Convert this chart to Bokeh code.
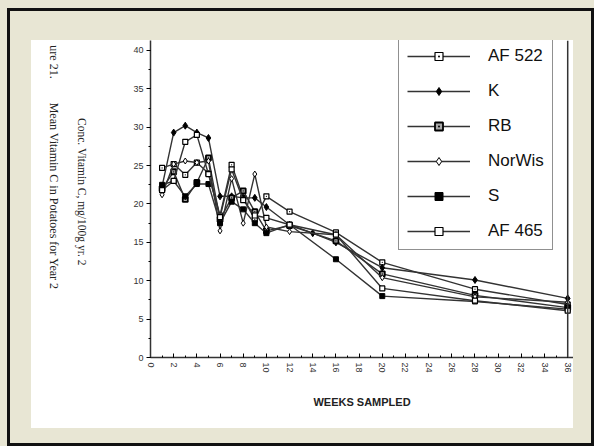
import math
from bokeh.plotting import figure
from bokeh.models import (ColumnDataSource, SingleIntervalTicker, FixedTicker, Legend,
                          LegendItem, Span, LinearAxis)
from bokeh.layouts import column, row
from bokeh.embed import file_html
from bokeh.resources import INLINE

weeks = [1, 2, 3, 4, 5, 6, 7, 8, 9, 10, 12, 16, 20, 28, 36]
weeks_k = [1, 2, 3, 4, 5, 6, 7, 8, 9, 10, 12, 14, 16, 20, 28, 36]

series_names = ["AF 522", "K", "RB", "NorWis", "S", "AF 465"]
af522 = [24.7, 25.2, 23.8, 25.4, 24.0, 18.5, 25.1, 20.8, 18.0, 21.0, 19.0, 16.3, 12.4, 8.9, 6.9]
k_vals = [22.3, 29.3, 30.2, 29.3, 28.6, 21.0, 21.0, 20.8, 20.8, 19.6, 17.3, 16.2, 15.0, 11.7, 10.1, 7.7]
rb = [22.0, 24.2, 20.6, 22.8, 26.0, 18.0, 20.8, 21.7, 19.0, 16.5, 17.2, 15.2, 10.9, 8.1, 6.5]
norwis = [21.2, 25.2, 25.6, 25.4, 25.6, 16.5, 23.3, 17.5, 23.9, 17.0, 16.4, 16.0, 10.4, 7.9, 7.2]
s_vals = [22.5, 23.0, 21.0, 22.6, 22.6, 17.5, 20.3, 19.3, 17.5, 16.2, 17.3, 12.8, 8.0, 7.3, 6.3]
af465 = [21.8, 23.0, 28.1, 29.0, 23.9, 18.3, 24.5, 20.5, 18.5, 18.2, 17.3, 16.0, 9.0, 7.4, 6.1]

y_ticks_interval = 5
x_ticks_interval = 2

NB = "\u00a0"
title_text = "ure 21." + NB * 8 + "Mean Vitamin C in Potatoes for Year 2" + NB * 21
ylabel_text = "Conc. Vitamin C, mg/100g yr. 2" + NB * 5

# ---------- main chart ----------
p = figure(width=453, height=388, output_backend="svg", toolbar_location=None,
           x_range=(0, 36.5), y_range=(0, 41.3),
           min_border_left=30, min_border_right=0, min_border_top=0, min_border_bottom=71,
           background_fill_color="white", border_fill_color="white")
p.outline_line_color = None
p.grid.visible = False

line_col = "#333333"
styles = [
    ("square_dot", "white", 1.2, 5),
    ("diamond", "black", 1.0, 7),
    ("square_dot", "#aaaaaa", 1.8, 5),
    ("diamond", "white", 1.0, 6),
    ("square", "black", 1.0, 5),
    ("square", "white", 1.2, 5),
]
data_all = [(weeks, af522), (weeks_k, k_vals), (weeks, rb), (weeks, norwis),
            (weeks, s_vals), (weeks, af465)]
items = []
for name, (xs, vals), (mk, fill, lw, sz) in zip(series_names, data_all, styles):
    src = ColumnDataSource(dict(x=xs, y=vals))
    r1 = p.line("x", "y", source=src, line_color=line_col, line_width=1.4)
    r2 = p.scatter("x", "y", source=src, marker=mk, size=sz, fill_color=fill,
                   line_color="black", line_width=lw)
    items.append(LegendItem(label=name, renderers=[r1, r2]))

legend = Legend(items=items, location=(248, 107), glyph_width=63, glyph_height=20,
                label_standoff=18, spacing=15, padding=8, margin=0,
                label_text_font="Liberation Sans", label_text_font_size="17px",
                label_text_color="#111111", border_line_color="#222222",
                border_line_width=1.5, background_fill_alpha=1.0)
p.add_layout(legend, "center")

# right border line at week 36
p.add_layout(Span(location=36, dimension="height", line_color="#333333", line_width=1.5))

xa = p.xaxis[0]
xa.ticker = SingleIntervalTicker(interval=x_ticks_interval, num_minor_ticks=2)
xa.major_label_orientation = -math.pi / 2
xa.major_label_text_font = "Liberation Sans"
xa.major_label_text_font_size = "9px"
xa.major_label_text_color = "#333333"
xa.major_tick_in = 4
xa.major_tick_out = 0
xa.minor_tick_in = 2
xa.minor_tick_out = 0
xa.major_label_standoff = 5
xa.axis_line_width = 1.5
xa.axis_line_color = "#333333"
xa.axis_label = "WEEKS SAMPLED"
xa.axis_label_text_font = "Liberation Sans"
xa.axis_label_text_font_style = "bold"
xa.axis_label_text_font_size = "11px"
xa.axis_label_text_color = "#222222"
xa.axis_label_standoff = 20

ya = p.yaxis[0]
ya.ticker = SingleIntervalTicker(interval=y_ticks_interval, num_minor_ticks=2)
ya.major_label_text_font = "Liberation Sans"
ya.major_label_text_font_size = "9px"
ya.major_label_text_color = "#333333"
ya.major_label_standoff = 3
ya.major_tick_in = 0
ya.major_tick_out = 4
ya.minor_tick_in = 0
ya.minor_tick_out = 2
ya.axis_line_width = 1.5
ya.axis_line_color = "#333333"

# ---------- left strip carrying the rotated texts (right-side axes read downward) ----------
lf = figure(width=89, height=388, output_backend="svg", toolbar_location=None,
            x_axis_location=None, y_axis_location=None,
            x_range=(0, 1), y_range=(0, 1),
            min_border_left=0, min_border_right=80, min_border_top=0, min_border_bottom=71,
            background_fill_color="white", border_fill_color="white")
lf.outline_line_color = None
lf.grid.visible = False


def label_axis(text, size, standoff):
    return LinearAxis(axis_label=text, axis_line_color=None,
                      major_tick_line_color=None, minor_tick_line_color=None,
                      major_label_text_font_size="0px", major_label_text_color=None,
                      axis_label_text_font="Liberation Serif",
                      axis_label_text_font_style="normal",
                      axis_label_text_font_size=size,
                      axis_label_text_color="#222222",
                      axis_label_standoff=standoff,
                      ticker=FixedTicker(ticks=[]))


lf.add_layout(label_axis(title_text, "12px", 6), "right")
lf.add_layout(label_axis(ylabel_text, "11.5px", 12), "right")

inner = column(row(lf, p, styles={"background-color": "white"}),
               styles={"background-color": "#e8e6d4",
                       "border": "3px solid #111111",
                       "padding": "29px 18px 15px 21px"})
outer = column(inner, styles={"background-color": "#e8e6d4", "padding": "8px 0px 0px 7px"})

open("out.html", "w").write(file_html(outer, INLINE))
